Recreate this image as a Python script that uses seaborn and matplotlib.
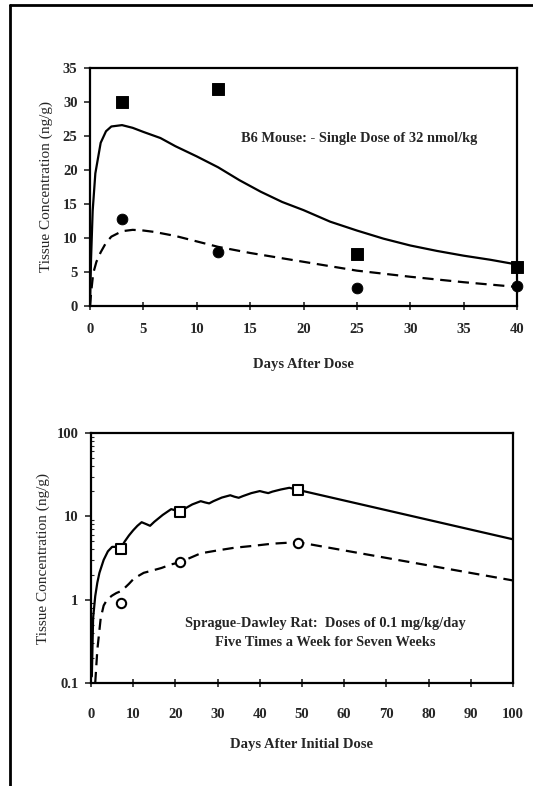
import numpy as np
import pandas as pd
import seaborn as sns
import matplotlib
matplotlib.use("Agg")
import matplotlib.pyplot as plt
from matplotlib.lines import Line2D
from matplotlib.ticker import LogLocator, NullFormatter

# top panel: B6 mouse, single dose
mouse_days = [0, 0.1, 0.25, 0.5, 1, 1.5, 2, 3, 4, 5, 6.6, 8, 10, 12, 14, 16, 18, 20,
              22.5, 25, 27.5, 30, 32.5, 35, 37.5, 40]
mouse_solid = [0, 7, 14, 19.5, 24, 25.7, 26.4, 26.6, 26.2, 25.6, 24.7, 23.5, 22, 20.4,
               18.5, 16.8, 15.3, 14.1, 12.4, 11.1, 9.9, 8.9, 8.1, 7.4, 6.8, 6.1]
mouse_dash_days = [0, 0.1, 0.3, 0.6, 1, 1.5, 2, 3, 4, 5, 6, 8, 10, 12, 15, 20, 25, 30, 35, 40]
mouse_dash = [0, 1.9, 4.8, 6.5, 7.9, 9.3, 10.2, 11.0, 11.2, 11.1, 10.9, 10.3, 9.5, 8.7,
              7.8, 6.5, 5.2, 4.3, 3.5, 2.8]
mouse_obs_days = [3, 12, 25, 40]
mouse_sq = [30, 31.9, 7.7, 5.7]
mouse_circ = [12.8, 7.9, 2.7, 3.0]

# bottom panel: Sprague-Dawley rat, repeated dosing
rat_days = [0.2, 0.5, 1, 1.5, 2, 3, 4, 5, 6, 7, 8, 9, 10, 11, 12, 13, 14, 15, 17, 19, 20,
            21, 22, 24, 26, 27, 28, 29, 31, 33, 34, 35, 36, 38, 40, 41, 42, 43, 45, 47,
            48, 49, 100]
rat_solid = [0.12, 0.6, 1.1, 1.6, 2.1, 3.0, 3.8, 4.3, 4.3, 4.1, 5.0, 5.9, 6.8, 7.7, 8.5,
             8.1, 7.7, 8.6, 10.4, 12.2, 11.8, 11.3, 12.2, 13.9, 15.2, 14.7, 14.3, 15.2,
             16.8, 17.9, 17.2, 16.7, 17.5, 19.0, 20.1, 19.5, 19.0, 19.8, 21.0, 22.0,
             21.4, 20.8, 5.3]
rat_dash_days = [1, 1.5, 2.3, 3, 3.8, 5, 6, 7.3, 9, 10.2, 12.5, 14, 16.7, 19, 21, 26, 30,
                 34, 38, 43, 49, 100]
rat_dash = [0.1, 0.25, 0.6, 0.85, 1.0, 1.12, 1.2, 1.28, 1.55, 1.8, 2.1, 2.2, 2.4, 2.65,
            2.8, 3.6, 3.9, 4.2, 4.4, 4.7, 4.9, 1.7]
rat_obs_days = [7, 21, 49]
rat_sq = [4.0, 11.2, 20.6]
rat_circ = [0.92, 2.8, 4.8]

sns.set_style("white")
plt.rcParams['font.family'] = ['Liberation Serif', 'DejaVu Serif']

W, H = 533, 786
fig = plt.figure(figsize=(W / 100, H / 100), dpi=100)

ax1 = fig.add_axes([90 / W, 1 - 306 / H, 427 / W, 238 / H])
ax2 = fig.add_axes([91 / W, 1 - 683 / H, 422 / W, 250 / H])

# outer frame (top and left edges only visible)
fig.add_artist(Line2D([10 / W, 1], [1 - 5 / H, 1 - 5 / H], color='black', lw=2))
fig.add_artist(Line2D([10 / W, 10 / W], [0, 1 - 5 / H], color='black', lw=2))

tick_font = dict(family='Liberation Serif', weight='bold', size=10.5)

# ---- top ----
sns.lineplot(x=mouse_days, y=mouse_solid, color='black', lw=1.6, ax=ax1, sort=False)
sns.lineplot(x=mouse_dash_days, y=mouse_dash, color='black', lw=1.6, ax=ax1, sort=False,
             linestyle=(0, (5, 3)))
sns.scatterplot(x=mouse_obs_days, y=mouse_sq, marker='s', s=70, color='black',
                edgecolor='black', ax=ax1, zorder=5, clip_on=False)
sns.scatterplot(x=mouse_obs_days, y=mouse_circ, marker='o', s=60, color='black',
                edgecolor='black', ax=ax1, zorder=5, clip_on=False)
ax1.set_xlim(0, 40)
ax1.set_ylim(0, 35)
ax1.set_xticks(range(0, 41, 5))
ax1.set_yticks(range(0, 36, 5))
ax1.text(25.2, 24.7, "B6 Mouse: - Single Dose of 32 nmol/kg", ha='center', va='center',
         fontsize=10.4, weight='bold', family='Liberation Serif')
ax1.set_xlabel("Days After Dose", fontsize=10.5, weight='bold', labelpad=16)
ax1.set_ylabel("Tissue Concentration (ng/g)", fontsize=11, labelpad=7)

# ---- bottom ----
sns.lineplot(x=rat_days, y=rat_solid, color='black', lw=1.6, ax=ax2, sort=False)
sns.lineplot(x=rat_dash_days, y=rat_dash, color='black', lw=1.6, ax=ax2, sort=False,
             linestyle=(0, (5, 3)))
sns.scatterplot(x=rat_obs_days, y=rat_sq, marker='s', s=55, color='white',
                edgecolor='black', linewidth=1.5, ax=ax2, zorder=5)
sns.scatterplot(x=rat_obs_days, y=rat_circ, marker='o', s=45, color='white',
                edgecolor='black', linewidth=1.5, ax=ax2, zorder=5)
ax2.set_yscale('log')
ax2.set_xlim(0, 100)
ax2.set_ylim(0.1, 100)
ax2.set_xticks(range(0, 101, 10))
ax2.set_yticks([0.1, 1, 10, 100])
ax2.set_yticklabels(['0.1', '1', '10', '100'])
ax2.yaxis.set_minor_locator(LogLocator(base=10, subs=np.arange(2, 10)))
ax2.yaxis.set_minor_formatter(NullFormatter())
ax2.text(55.5, 0.52, "Sprague-Dawley Rat:  Doses of 0.1 mg/kg/day", ha='center',
         va='center', fontsize=10.4, weight='bold', family='Liberation Serif')
ax2.text(55.5, 0.31, "Five Times a Week for Seven Weeks", ha='center',
         va='center', fontsize=10.4, weight='bold', family='Liberation Serif')
ax2.set_xlabel("Days After Initial Dose", fontsize=10.5, weight='bold', labelpad=12)
ax2.set_ylabel("Tissue Concentration (ng/g)", fontsize=11, labelpad=5)

for ax in (ax1, ax2):
    for sp in ax.spines.values():
        sp.set_visible(True)
        sp.set_color('black')
        sp.set_linewidth(1.6)
    for lab in ax.get_xticklabels() + ax.get_yticklabels():
        lab.set_fontproperties(tick_font)
    ax.tick_params(axis='x', which='major', direction='inout', length=6, width=1.2,
                   pad=9, bottom=True)
    ax.tick_params(axis='y', which='major', direction='out', length=4, width=1.2,
                   pad=5, left=True)

ax2.tick_params(axis='x', which='major', pad=15)
ax2.tick_params(axis='y', which='minor', direction='in', length=2.5, width=0.8, left=True)

fig.savefig("out.png", dpi=100, facecolor='white')
